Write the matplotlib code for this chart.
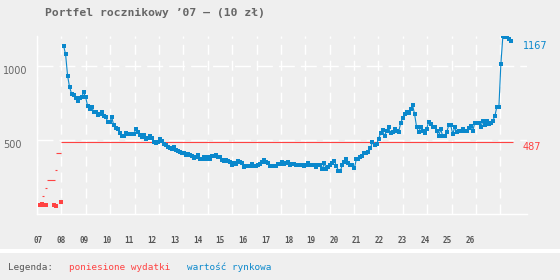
import numpy as np
import matplotlib
matplotlib.use('Agg')
import matplotlib.pyplot as plt
from matplotlib.patches import Rectangle

title = 'Portfel rocznikowy ’07 – (10 zł)'
year_labels = ['07', '08', '09', '10', '11', '12', '13', '14', '15', '16',
               '17', '18', '19', '20', '21', '22', '23', '24', '25', '26']
grid_years = list(range(2007, 2027))
y_ticks = [500, 1000]
legend_items = ['poniesione wydatki', 'wartość rynkowa']

# market value, monthly, from ~Feb 2008 to ~Jun 2026
value_start = 2008.09
value_end = 2026.43
market_value = [
    1137, 1079, 934, 856, 813, 804, 786, 764, 782, 791, 822, 789, 730, 709, 723,
    691, 691, 669, 678, 691, 662, 655, 624, 620, 653, 601, 583, 572, 545, 529,
    525, 549, 539, 539, 539,
    541, 572, 556, 532, 522, 536, 505, 514, 525, 516, 489, 482, 486, 505, 491,
    473, 466, 453, 448, 437, 455, 432, 428, 419, 410, 414, 399, 405, 401, 390,
    376, 387, 397, 370, 374, 383, 370,
    387, 372, 392, 394, 399, 383, 383, 365, 360, 365, 358, 349, 329, 343, 338,
    358, 353, 345, 316, 326, 326, 326, 336, 326, 322, 331, 340, 349, 363, 349,
    343, 326, 326, 326, 322, 340, 340,
    351, 338, 343, 349, 331, 338, 338, 329, 329, 329, 329, 322, 329, 343, 333,
    333, 333, 316, 329, 333, 306, 343, 302, 316, 329, 347, 360, 324, 293, 293,
    333, 351, 370, 347, 329, 329, 311, 374, 370, 383, 395,
    410, 414, 419, 444, 489, 466, 471, 505, 545, 565, 525, 563, 586, 545, 554,
    572, 563, 552, 613, 649, 678, 689, 680, 707, 734, 674, 586, 552, 586, 559,
    549, 576, 622, 606, 586, 586,
    559, 527, 572, 527, 527, 554, 599, 599, 541, 586, 554, 559, 559, 576, 563,
    559, 581, 595, 563, 617, 617, 617, 586, 630, 599, 626, 608, 617, 630, 662,
    725, 721, 1014, 1203, 1198, 1194, 1180, 1167,
]

# expenses: early points and step levels
expense_x = [2007.14, 2007.22, 2007.30, 2007.38, np.nan, 2007.71, 2007.79, np.nan, 2007.97]
expense_y = [60, 66, 60, 60, np.nan, 63, 53, np.nan, 79]
step_from = [2007.20, 2007.31, 2007.41, 2007.75, 2007.81, 2007.79, 2008.0]
step_to = [2007.30, 2007.42, 2007.75, 2007.83, 2007.84, 2007.98, 2026.52]
step_value = [122, 173, 227, 295, 349, 410, 487]

BG = '#efefef'
RED = '#ff4242'
BLUE = '#0a88cc'
GRAY = '#666666'

plt.rcParams['lines.scale_dashes'] = False

W, H = 560, 280
fig = plt.figure(figsize=(W / 100, H / 100), dpi=100, facecolor=BG)

def box(x0, y0, x1, y1):
    # pixel box (top-left origin) -> figure fraction rect
    return [x0 / W, 1 - y1 / H, (x1 - x0) / W, (y1 - y0) / H]

ax = fig.add_axes(box(37, 36, 527, 214))
ax.set_facecolor(BG)

ax.set_xlim(2007, 2027.09)
ax.set_ylim(0, 1203)

ax.set_xticks(grid_years)
ax.set_xticklabels([])
ax.set_yticks(y_ticks)
ax.set_yticklabels([str(v) for v in y_ticks], ha='left', va='top',
                   fontsize=7, color=GRAY, family='DejaVu Sans')
ax.tick_params(axis='both', length=0)
ax.tick_params(axis='y', pad=24.5)
ax.xaxis.grid(True, color='white', lw=1.0, linestyle=(0, (7.2, 4.3)))
ax.yaxis.grid(True, color='white', lw=1.0, linestyle=(0, (11.5, 4.3)))
ax.set_axisbelow(True)
for side in ['top', 'right']:
    ax.spines[side].set_visible(False)
for side in ['left', 'bottom']:
    ax.spines[side].set_color('white')
    ax.spines[side].set_linewidth(1.0)

# expenses
ax.hlines(step_value, step_from, step_to, color=RED, lw=0.8, zorder=3)
ax.plot(expense_x, expense_y, color=RED, lw=0.8, marker='s', ms=2.2, mew=0, zorder=3)

# market value
value_x = np.linspace(value_start, value_end, len(market_value))
ax.plot(value_x, market_value, color=BLUE, lw=0.8, marker='s', ms=2.2, mew=0, zorder=4)

# end labels
right_x = (523 - 37) / (527 - 37)
ax.annotate(str(market_value[-1]), xy=(right_x, market_value[-1]),
            xycoords=('axes fraction', 'data'), ha='left', va='top',
            fontsize=7, color=BLUE, annotation_clip=False)
ax.annotate(str(step_value[-1]), xy=(right_x, step_value[-1]),
            xycoords=('axes fraction', 'data'), ha='left', va='top',
            fontsize=7, color=RED, annotation_clip=False)

# year label row
lab = fig.add_axes(box(26.9, 230, 481.7, 235))
lab.set_xlim(-0.5, len(year_labels) - 0.5)
lab.set_xticks(range(len(year_labels)))
lab.set_xticklabels(year_labels, fontsize=5.5, color='#555555',
                    family='DejaVu Sans Mono', fontweight='bold')
lab.tick_params(axis='x', length=0, pad=0.5)
lab.set_yticks([])
lab.patch.set_alpha(0)
for s in lab.spines.values():
    s.set_visible(False)

# separator and legend
fig.patches.append(Rectangle((0, 1 - 253 / H), 1, 4 / H, transform=fig.transFigure,
                             facecolor='white', edgecolor='none'))
fig.text(8.3 / W, 1 - 267.7 / H, 'Legenda:', fontsize=6.7, color='#555555',
         family='DejaVu Sans Mono', va='center')
fig.text(69.3 / W, 1 - 267.7 / H, legend_items[0], fontsize=6.7, color=RED,
         family='DejaVu Sans Mono', va='center')
fig.text(186.7 / W, 1 - 267.7 / H, legend_items[1], fontsize=6.7, color=BLUE,
         family='DejaVu Sans Mono', va='center')

fig.text(45.3 / W, 1 - 12.5 / H, title, fontsize=8.2, color=GRAY,
         family='DejaVu Sans Mono', fontweight='bold', va='center')

fig.savefig('out.png', dpi=100, facecolor=BG)
